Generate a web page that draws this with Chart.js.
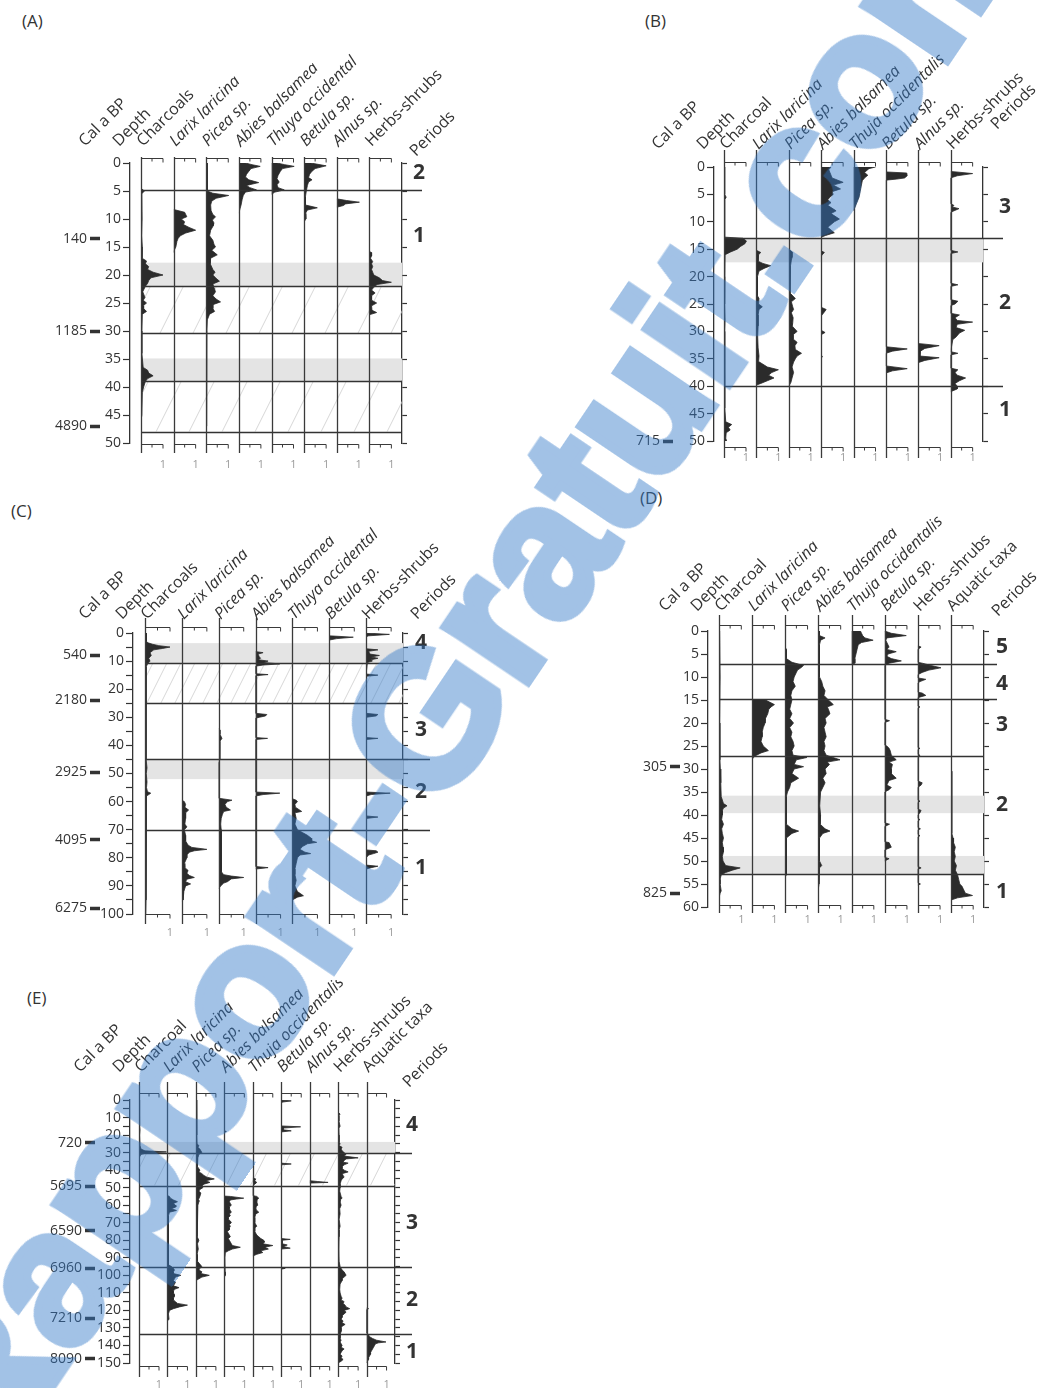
<!DOCTYPE html>
<html>
<head>
<meta charset="utf-8">
<script src="https://cdn.jsdelivr.net/npm/chart.js@4.4.1/dist/chart.umd.min.js"></script>
<style>
  body { margin: 0; background: #fff; }
  #page { position: relative; width: 1048px; height: 1388px; overflow: hidden; font-family: "Open Sans", sans-serif; color: #333; }
  #page canvas { position: absolute; }
  .tag { position: absolute; font-size: 17px; line-height: 20px; }
  #wm { position: absolute; left: 460px; top: 665px; transform: translate(-50%, -50%) rotate(-56deg);
        font: bold 190px "Liberation Sans", Arial, sans-serif; line-height: 1; white-space: nowrap;
        color: rgb(50, 120, 200); -webkit-text-stroke: 8px rgb(50, 120, 200); opacity: 0.45; pointer-events: none; }
</style>
</head>
<body>
<div id="page">
  <div class="tag" style="left:22px;top:11px">(A)</div>
  <div class="tag" style="left:645px;top:11px">(B)</div>
  <div class="tag" style="left:11px;top:501px">(C)</div>
  <div class="tag" style="left:640px;top:488px">(D)</div>
  <div class="tag" style="left:27px;top:988px">(E)</div>
  <canvas id="panelA" width="470" height="480" style="left:0;top:0"></canvas>
  <canvas id="panelB" width="428" height="480" style="left:620px;top:0"></canvas>
  <canvas id="panelC" width="480" height="450" style="left:0;top:490px"></canvas>
  <canvas id="panelD" width="418" height="450" style="left:630px;top:480px"></canvas>
  <canvas id="panelE" width="470" height="408" style="left:0;top:980px"></canvas>
  <div id="wm">Rapport-Gratuit.com</div>
</div>
<script>
Chart.defaults.font.family = '"Open Sans", sans-serif';
Chart.defaults.color = '#333';

// profiles are [depth, value] pairs, value 1 = the "1" tick of each column

// ---------- (A) ----------
const taxaA = ['Charcoals', 'Larix laricina', 'Picea sp.', 'Abies balsamea', 'Thuya occidental', 'Betula sp.', 'Alnus sp.', 'Herbs-shrubs'];
const charcoalsA = [[4.5,0],[5,.15],[5.5,.04],[10,.05],[13,.03],[15,.06],[17,.05],[17.5,.25],[18,.2],[18.5,.35],[19,.3],[19.5,.55],[20,1],[20.5,.45],[21,.35],[21.5,.3],[22,.2],[23,.08],[24,.18],[24.5,.1],[25,.25],[25.5,.1],[26,.12],[26.5,.25],[27,.06],[30,.04],[34,.04],[36.5,.1],[37,.3],[37.5,.35],[38,.55],[38.5,.3],[39,.2],[40,.12],[41,.06],[45,.04],[46,0]];
const larixA = [[8.3,0],[8.8,.5],[9.2,.55],[9.6,.6],[10,.35],[10.5,.5],[11,.45],[11.5,.7],[12,1],[12.5,.55],[13,.3],[13.5,.2],[14,.15],[15,.1],[15.5,.04],[16,0]];
const piceaA = [[0,.04],[5,.05],[5.4,.3],[5.8,1.02],[6.3,.45],[6.8,.25],[7.5,.2],[8.5,.22],[9.2,.3],[9.6,.42],[10.2,.28],[10.7,.35],[11.2,.32],[12,.2],[13,.15],[13.8,.3],[14.5,.35],[15,.42],[15.6,.25],[16.4,.5],[17,.2],[18,.18],[19,.3],[19.5,.4],[20,.3],[20.6,.45],[21.1,.6],[21.6,.3],[22.2,.35],[23,.42],[23.7,.3],[24.3,.45],[24.8,.65],[25.3,.3],[26,.3],[26.5,.38],[27,.15],[28,.05],[30,.03],[46,.03],[47,0]];
const abiesA = [[0,.3],[0.3,.6],[0.6,.97],[1,.55],[1.5,.45],[2,.35],[2.5,.3],[3,.45],[3.5,.9],[4,.35],[4.4,.5],[4.8,.8],[5.2,.3],[5.8,.2],[6.5,.15],[7.5,.1],[8.2,.05],[9,0]];
const thuyaA = [[0,.25],[0.3,.6],[0.6,1.03],[1,.5],[1.5,.4],[2.2,.3],[2.8,.25],[3.4,.35],[3.9,.25],[4.4,.3],[4.8,.58],[5.2,.15],[5.6,0]];
const betulaA = [[0,.3],[0.5,1],[1,.5],[1.5,.35],[2,.25],[2.6,.2],[3,.36],[3.4,.2],[4,.15],[5,.1],[6,.06],[7.5,.06],[8,.6],[8.4,.15],[9,.06],[10,.08],[10.5,0]];
const alnusA = [[6.4,0],[6.7,.45],[7,1.03],[7.3,.4],[7.6,.3],[7.9,0]];
const herbsA = [[15.8,0],[16,.1],[16.6,.1],[17,.05],[17.6,.15],[18,.1],[18.5,.15],[19,.1],[19.5,.15],[20,.2],[20.5,.45],[21,.6],[21.3,1],[21.7,.35],[22.2,.2],[22.7,.1],[23.2,.26],[23.7,.1],[24.5,.1],[25,.33],[25.5,.1],[26.3,.12],[26.7,.33],[27.1,0]];
const calDepthA = [13.5, 30, 47];
const calAgeA = ['140', '1185', '4890'];
const periodNameA = ['2', '1'];
const periodDepthA = [1.8, 13];
const periodLineA = [4.9];
const zoneLineA = [22, 30.4, 38.9, 48];
const greyA = [[17.8, 22], [34.9, 38.9]];
const hatchA = [[22, 30.4], [38.9, 48]];

// ---------- (B) ----------
const taxaB = ['Charcoal', 'Larix laricina', 'Picea sp.', 'Abies balsamea', 'Thuja occidentalis', 'Betula sp.', 'Alnus sp.', 'Herbs-shrubs'];
const charcoalB = [[0,.03],[5,.03],[5.5,.1],[6,.03],[12.8,.03],[13,.85],[13.5,1.02],[14,.95],[14.5,.75],[15,.6],[15.5,.3],[16,.05],[20,.04],[25,.03],[28,.05],[30,.03],[40,.03],[44,.04],[46.5,.08],[47,.35],[47.5,.2],[48,.28],[48.5,.1],[49.5,.08],[50,.12]];
const larixB = [[15.2,0],[15.6,.2],[16,.1],[17.2,.08],[17.6,.3],[18,.65],[18.5,.35],[19,.12],[20,.05],[23.5,.05],[24,.12],[25,.1],[25.5,.27],[26,.12],[27,.08],[29,.08],[31,.06],[33,.08],[34.5,.12],[35.5,.1],[36,.3],[36.5,.5],[37,1],[37.5,.7],[38,.55],[38.5,.8],[39,.5],[39.5,.2],[39.8,0]];
const piceaB = [[15,0],[15.5,.15],[16.5,.15],[17,.12],[18,.08],[20,.06],[23,.06],[24,.3],[24.6,.12],[25.5,.18],[26,.22],[26.6,.12],[27.5,.2],[28.5,.18],[29,.15],[30,.38],[30.6,.2],[31.4,.2],[32,.38],[32.6,.28],[33.3,.3],[34,.58],[34.5,.38],[35,.3],[35.6,.22],[36.5,.15],[37.5,.22],[38.5,.15],[39.3,.1],[40,0]];
const abiesB = [[0,.45],[0.5,.35],[1,.4],[1.5,.45],[2,.5],[2.8,1],[3.3,.55],[4,.88],[4.5,.5],[5,.55],[5.5,.4],[6,.3],[6.5,.45],[7,.3],[8,.68],[8.5,.45],[9.5,.83],[10,.6],[10.5,.45],[11,.3],[12,.6],[12.5,.2],[12.8,0],[15.3,0],[15.6,.15],[16,.05],[16.3,0],[25.6,0],[26,.23],[26.6,.12],[27.2,0],[29.8,0],[30.2,.18],[30.6,0],[34.3,0],[34.6,.06],[34.9,0]];
const thujaB = [[0,1],[0.3,.7],[1,.5],[1.5,.65],[2,.5],[2.5,.4],[3.5,.35],[4.5,.3],[5.5,.25],[6.5,.15],[7.5,.05],[8,0]];
const betulaB = [[0.9,0],[1.1,.95],[1.6,.97],[2,.85],[2.2,.5],[2.4,0],[32.8,0],[33.2,.97],[33.6,.3],[34,0],[36.3,0],[36.8,.97],[37.2,.3],[37.6,0]];
const alnusB = [[32.2,0],[32.6,.95],[33.1,.3],[33.6,.1],[34.5,.08],[34.8,.95],[35.3,.3],[35.7,0]];
const herbsB = [[0.8,0],[1.2,1],[1.6,.3],[2,0],[6.7,0],[7,.15],[7.3,.08],[7.6,.38],[8,.15],[8.3,0],[15.2,0],[15.5,.33],[15.8,0],[21.2,0],[21.5,.33],[21.8,0],[24.2,0],[24.5,.33],[25,.2],[25.3,0],[26.7,0],[27,.4],[27.5,.2],[28,.3],[28.3,1],[28.7,.3],[29.3,.25],[29.8,.64],[30.3,.4],[31,.25],[31.5,.1],[33.7,0],[34,.33],[34.3,0],[36.7,0],[37,.33],[37.5,.2],[38,.3],[38.5,.68],[39,.4],[39.5,.2],[40,.3],[40.5,.3],[41,0]];
const calDepthB = [50];
const calAgeB = ['715'];
const periodNameB = ['3', '2', '1'];
const periodDepthB = [7.3, 24.8, 44.3];
const periodLineB = [13, 40];
const zoneLineB = [];
const greyB = [[13, 17.4]];
const hatchB = [];

// ---------- (C) ----------
const taxaC = ['Charcoals', 'Larix laricina', 'Picea sp.', 'Abies balsamea', 'Thuya occidental', 'Betula sp.', 'Herbs-shrubs'];
const charcoalsC = [[0,.05],[3,.06],[3.5,.12],[4,.3],[4.5,.55],[5,1],[5.5,.7],[6,.35],[7,.2],[8,.25],[9,.15],[10,.2],[11,.1],[12,.05],[20,.04],[30,.04],[40,.04],[45,.06],[48,.08],[50,.05],[53,.08],[55,.06],[56.5,.1],[57,.23],[57.5,.15],[58,.06],[65,.04],[75,.04],[85,.05],[95,.04],[100,.03]];
const larixC = [[59.5,0],[60,.1],[61,.15],[62,.12],[63,.27],[64,.15],[66,.15],[68,.12],[69,.2],[70,.1],[72,.15],[74,.15],[75.5,.25],[76.3,.4],[77,1],[77.5,.5],[78,.3],[79,.2],[80,.2],[82,.1],[83.5,.12],[84.5,.25],[85.5,.2],[86.3,.3],[87,.5],[87.6,.2],[88.5,.15],[89.3,.35],[90,.15],[92,.08],[95,.05],[95.5,0]];
const piceaC = [[34,0],[34.5,.05],[36,.05],[37.5,.13],[38.5,.05],[42,.05],[45,.04],[46,0],[58.8,0],[59.5,.53],[60,.35],[61,.25],[62,.3],[63,.47],[63.5,.2],[64.5,.15],[66,.1],[68,.08],[70,.1],[72,.12],[75,.1],[78,.12],[82,.1],[85,.1],[86,.2],[86.5,.5],[87,1],[87.5,.5],[88.5,.35],[89,.2],[90,.08],[91,0]];
const abiesC = [[6.6,0],[7,.3],[7.5,.1],[8.5,.15],[9,.2],[9.5,.1],[10,.5],[10.5,.3],[11,.97],[11.4,.3],[11.8,0],[14.5,0],[14.8,.5],[15.2,0],[28.6,0],[29,.45],[29.5,.4],[30,.15],[30.3,0],[37.2,0],[37.5,.48],[37.9,0],[56.6,0],[57,.97],[57.5,.3],[58,0],[83.1,0],[83.5,.5],[84,0]];
const thuyaC = [[59,0],[59.5,.15],[60,.2],[61,.1],[62,.12],[63.5,.37],[64,.1],[66,.15],[68,.1],[70,.2],[71,.4],[72,.6],[73,.75],[74,.77],[74.5,.97],[75,.6],[76,.4],[77,.3],[78,.5],[78.5,.73],[79,.3],[80,.2],[82,.15],[84,.1],[86,.1],[88,.15],[90,.1],[92,.2],[93.5,.44],[94,.2],[95,0]];
const betulaC = [[1,0],[1.5,.96],[2,.3],[2.5,0]];
const herbsC = [[0,0],[0.5,.93],[1,.1],[1.3,0],[5.6,0],[6,.47],[6.5,.1],[7.5,.15],[8,.53],[8.5,.2],[9,.47],[9.5,.2],[10,.25],[10.5,.05],[14.6,0],[15,.47],[15.4,0],[28.6,0],[29,.47],[29.5,.4],[30,0],[37.2,0],[37.5,.47],[37.9,0],[56.6,0],[57,.96],[57.5,.2],[58,0],[65.1,0],[65.5,.47],[66,0],[77.2,0],[77.5,.4],[78,.47],[78.5,.3],[79,.1],[80,0],[82.6,0],[83,.47],[83.5,.2],[84,0]];
const calDepthC = [8, 24, 49.5, 73.6, 98];
const calAgeC = ['540', '2180', '2925', '4095', '6275'];
const periodNameC = ['4', '3', '2', '1'];
const periodDepthC = [3.6, 34.5, 56.6, 83.6];
const periodLineC = [45, 70];
const zoneLineC = [10.7, 25];
const greyC = [[3.6, 10.7], [45, 52]];
const hatchC = [[10.7, 25]];

// ---------- (D) ----------
const taxaD = ['Charcoal', 'Larix laricina', 'Picea sp.', 'Abies balsamea', 'Thuja occidentalis', 'Betula sp.', 'Herbs-shrubs', 'Aquatic taxa'];
const charcoalD = [[0,.03],[10,.05],[20,.03],[28,.04],[30,.06],[33,.08],[36,.1],[37.5,.2],[38,.36],[38.5,.2],[39,.15],[40,.15],[41,.12],[42,.2],[43,.12],[44,.15],[45,.2],[46,.15],[47,.18],[48,.2],[49,.15],[50,.18],[51,.3],[51.5,.95],[52,.6],[52.5,.3],[53,.1],[54,.05],[55,.05],[56.5,.1],[57,.05],[58,0]];
const larixD = [[14.9,0],[15,.6],[15.5,.8],[16,1],[16.5,.85],[17,.75],[18,.7],[19,.6],[20,.58],[21,.5],[22,.45],[23,.45],[24,.4],[25,.5],[26,.73],[26.5,.4],[27,.2],[27.5,.05],[28,0]];
const piceaD = [[3.5,0],[4,.05],[6,.05],[6.8,.3],[7.5,.82],[8,.7],[8.5,.55],[9,.5],[10,.4],[11,.35],[12,.45],[13,.3],[14,.25],[15,.3],[16,.25],[17,.2],[18,.3],[19,.2],[20,.37],[21,.2],[22,.3],[23,.25],[24,.35],[25,.4],[26,.3],[27,.35],[27.5,.97],[28,.5],[29,.4],[29.5,.82],[30,.4],[31,.3],[32,.6],[33,.25],[34,.2],[35,.1],[36,.05],[42,.05],[43,.3],[43.5,.6],[44,.3],[45,.05],[50,.05],[53,.05],[53.5,0]];
const abiesD = [[0,.05],[1,.05],[1.5,.3],[2,.1],[3,.05],[10,.05],[11,.15],[12,.2],[13,.3],[14,.25],[15,.45],[16,.67],[16.5,.4],[17,.45],[18,.52],[19,.3],[20,.35],[21,.25],[22,.3],[23,.35],[24,.25],[25,.3],[26,.25],[27,.35],[28,.97],[28.5,.4],[29,.5],[30,.3],[31,.35],[32,.2],[33,.3],[34,.2],[35,.1],[38,.06],[40,.1],[42,.08],[43,.3],[43.5,.52],[44,.2],[45,.05],[50,.05],[51,.15],[51.5,.05],[55,.03],[56,0]];
const thujaD = [[0,.4],[0.5,.45],[1,.5],[1.5,.6],[2,.97],[2.5,.45],[3,.3],[4,.25],[5,.2],[6,.15],[7,.15],[7.3,0]];
const betulaD = [[0,0],[0.5,.3],[1,.97],[1.5,.1],[2,.05],[3,.15],[3.5,.2],[4,.1],[4.5,.52],[5,.15],[5.5,.1],[6,.3],[6.5,.75],[7,.2],[7.5,0],[19.2,0],[19.5,.22],[19.9,0],[24.8,0],[25,.1],[25.5,.2],[26,.25],[27,.3],[28,.52],[28.5,.2],[29,.35],[30,.3],[31,.3],[32,.52],[32.5,.2],[33.5,.1],[34,.3],[34.5,.2],[35,0],[41.7,0],[42,.22],[42.5,0],[45.8,0],[46,.2],[47,.3],[47.6,0],[49.2,0],[49.5,.2],[50,0]];
const herbsD = [[3.2,0],[3.5,.15],[4,0],[6.8,0],[7,.2],[7.5,.6],[8,1.04],[8.5,.5],[9,.2],[9.5,0],[10.2,0],[10.5,.36],[11,.1],[11.3,0],[13.3,0],[13.5,.2],[14,.36],[14.5,0],[16.3,0],[16.5,.1],[16.8,0],[25.3,0],[25.5,.1],[25.8,0],[26.8,0],[27,.1],[27.5,0],[32.6,0],[33,.2],[33.5,.15],[34,0],[36.7,0],[37,.1],[37.3,0],[38.7,0],[39,.15],[39.5,.1],[40,0],[40.7,0],[41,.1],[41.3,0],[42.7,0],[43,.12],[43.3,0],[44.2,0],[44.5,.1],[44.8,0],[51.2,0],[51.5,.15],[51.8,0],[54.7,0],[55,.12],[55.3,0]];
const aquaticD = [[30,0],[30.5,.04],[44,.04],[45,.1],[46,.12],[47,.2],[48,.15],[49,.2],[50,.15],[51,.25],[52,.2],[53,.3],[54,.35],[55,.4],[55.5,.5],[56,.55],[56.5,.6],[57,.65],[57.5,.97],[58,.3],[58.5,0]];
const calDepthD = [29.5, 57];
const calAgeD = ['305', '825'];
const periodNameD = ['5', '4', '3', '2', '1'];
const periodDepthD = [3.5, 11.5, 20.4, 37.8, 56.7];
const periodLineD = [7.2, 14.8];
const zoneLineD = [27.2, 52.8];
const greyD = [[35.8, 39.6], [48.9, 52.8]];
const hatchD = [];

// ---------- (E) ----------
const taxaE = ['Charcoal', 'Larix laricina', 'Picea sp.', 'Abies balsamea', 'Thuja occidentalis', 'Betula sp.', 'Alnus sp.', 'Herbs-shrubs', 'Aquatic taxa'];
const charcoalE = [[0,.02],[15,.03],[17,.05],[20,.03],[26,.05],[28,.1],[29,.3],[29.6,1.37],[30.2,.4],[31,.1],[32,.05],[33,0]];
const larixE = [[54.5,0],[55,.1],[56,.15],[57,.3],[58,.5],[59,.3],[60,.4],[61,.42],[62,.2],[63,.45],[64,.1],[66,.05],[70,.05],[80,.05],[90,.05],[94,.05],[95,.2],[96,.3],[97,.35],[98,.3],[99,.3],[100,.67],[101,.4],[102,.35],[103,.3],[104,.4],[105,.35],[106,.3],[107,.58],[108,.35],[109,.3],[110,.3],[111,.35],[112,.35],[113,.3],[114,.3],[115,.4],[116,.5],[117,1],[118,.6],[119,.3],[120,.1],[122,.05],[125,.08],[126,0]];
const piceaE = [[0,.03],[10,.04],[20,.05],[25,.06],[26,.15],[27,.1],[28,.2],[29,.25],[30,.3],[31,.15],[33,.1],[36,.06],[38,.1],[40,.2],[41,.15],[42,.3],[43,.4],[44,.55],[45,.92],[46,.5],[47,.7],[48,.4],[49,.3],[50,.35],[51,.2],[52,.15],[53,.25],[55,.2],[57,.12],[58,.15],[60,.1],[62,.06],[70,.06],[75,.08],[78,.06],[80,.15],[82,.08],[85,.12],[88,.06],[92,.08],[95,.3],[96,.2],[97,.15],[98,.3],[99,.25],[100,.67],[101,.3],[102,.15],[103,0]];
const abiesE = [[17.5,0],[18,.1],[18.5,0],[54.8,0],[55,.3],[56,.97],[56.5,.6],[57,.3],[58,.25],[59,.3],[60,.35],[61,.25],[62,.25],[63,.3],[64,.35],[65,.25],[66,.3],[67,.2],[68,.2],[69,.3],[70,.35],[71,.25],[72,.3],[73,.25],[74,.25],[75,.15],[76,.2],[77,.25],[78,.3],[79,.2],[80,.25],[81,.3],[82,.35],[83,.4],[84,.8],[85,.4],[86,.2],[87,.05],[90,.03],[98,.04],[100,.05],[101,0]];
const thujaE = [[44.5,0],[45,.15],[46,.1],[47,.2],[48,.1],[49,0],[54.5,0],[55,.2],[56,.3],[57,.2],[58,.2],[60,.25],[61,.15],[62,.15],[63,.2],[64,.3],[65,.15],[67,.1],[70,.1],[72,.2],[73,.1],[75,.1],[77,.2],[78,.3],[79,.4],[80,.55],[81,.6],[82,.5],[83,1],[84,.6],[85,.78],[86,.4],[87,.5],[88,.2],[89,0]];
const betulaE = [[0,0],[0.5,.5],[1.2,.05],[2,0],[14.8,0],[15.3,.97],[16,.1],[17,.1],[17.6,.5],[18.2,0],[36,0],[36.5,.5],[37,0],[79,0],[79.5,.45],[80,.05],[82,.05],[82.7,.3],[83.5,.1],[84.5,.45],[85,0],[95.5,0],[96,.2],[96.5,0]];
const alnusE = [[46,0],[46.5,.4],[47,.92],[47.4,0]];
const herbsE = [[7,0],[8,.1],[9,.04],[12,.04],[15,.1],[16,.04],[20,.05],[24,.05],[25,.1],[26,.05],[27,.2],[28,.15],[29,.2],[30,.3],[31,.4],[32,.3],[33,1],[33.6,.4],[34.5,.3],[35.5,.25],[36,.5],[37,.3],[38,.2],[39,.2],[40,.3],[41,.5],[42,.2],[43,.25],[44,.3],[45,.2],[46,.15],[48,.1],[50,.1],[52,.08],[55,.15],[56,.2],[57,.1],[58,.1],[60,.15],[62,.08],[65,.1],[68,.05],[72,.1],[74,.05],[78,.05],[85,.04],[92,.05],[95,.1],[96,.15],[97,.2],[98,.3],[99,.35],[100,.4],[101,.3],[102,.2],[103,.2],[105,.1],[108,.08],[110,.1],[112,.15],[113,.2],[114,.15],[115,.3],[116,.25],[117,.35],[118,.4],[119,.58],[120,.3],[121,.4],[122,.3],[123,.2],[124,.2],[125,.15],[126,.25],[127,.2],[128,.35],[129,.2],[130,.15],[132,.15],[134,.1],[136,.1],[137,.15],[138,.1],[140,.2],[141,.15],[142,.3],[143,.2],[144,.15],[145,.1],[146,.2],[147,.15],[148,.25],[149,.15],[150,0]];
const aquaticE = [[118.5,0],[119,.1],[119.5,0],[133,0],[134,.1],[135,.15],[136,.3],[137,.5],[138,.97],[138.5,.6],[139,.45],[140,.4],[141,.35],[142,.3],[143,.25],[144,.2],[145,.2],[146,.15],[147,.1],[148,.1],[149,.05],[150,0]];
const calDepthE = [24.5, 49.3, 74.5, 96, 124.5, 147.5];
const calAgeE = ['720', '5695', '6590', '6960', '7210', '8090'];
const periodNameE = ['4', '3', '2', '1'];
const periodDepthE = [14, 70, 114, 144];
const periodLineE = [30.2, 95.3, 133.7];
const zoneLineE = [48.8];
const greyE = [[23.9, 30.2]];
const hatchE = [[30.2, 48.8]];

const ink = '#2b2b2b';
const upright = ['Charcoal', 'Charcoals', 'Herbs-shrubs', 'Aquatic taxa'];

// bands, hatching, column axes, zone lines and rotated headers
function makeDecor(lay, p, cols) {
  return {
    id: 'decor',
    beforeDatasetsDraw(chart) {
      const {ctx, chartArea: a, scales} = chart;
      const y = scales.y;
      const x0 = scales[cols[0]].getPixelForValue(0);
      ctx.save();
      ctx.fillStyle = '#e4e4e4';
      p.grey.forEach(([d0, d1]) => {
        const t = y.getPixelForValue(d0), b = y.getPixelForValue(d1);
        ctx.fillRect(x0, t, a.right - x0, b - t);
      });
      ctx.strokeStyle = '#cdcdcd';
      ctx.lineWidth = 0.8;
      p.hatch.forEach(([d0, d1]) => {
        const t = y.getPixelForValue(d0), b = y.getPixelForValue(d1), h = b - t;
        ctx.save();
        ctx.beginPath();
        ctx.rect(x0, t, a.right - x0, h);
        ctx.clip();
        ctx.beginPath();
        for (let x = x0 - h; x < a.right; x += lay.hatch) {
          ctx.moveTo(x, b);
          ctx.lineTo(x + h * 0.5, t);
        }
        ctx.stroke();
        ctx.restore();
      });
      ctx.restore();
    },
    afterDatasetsDraw(chart) {
      const {ctx, chartArea: a, scales} = chart;
      const y = scales.y;
      const x0 = scales[cols[0]].getPixelForValue(0);
      ctx.save();
      // zone and period boundaries
      ctx.strokeStyle = '#333';
      ctx.lineWidth = 1.4;
      ctx.beginPath();
      p.zones.forEach(d => {
        const py = Math.round(y.getPixelForValue(d)) + 0.5;
        ctx.moveTo(x0, py); ctx.lineTo(a.right, py);
      });
      p.periodLines.forEach(d => {
        const py = Math.round(y.getPixelForValue(d)) + 0.5;
        ctx.moveTo(x0, py); ctx.lineTo(a.right + lay.ext, py);
      });
      ctx.stroke();

      // one small axis pair per column
      cols.forEach(id => {
        const s = scales[id];
        const x = Math.round(s.getPixelForValue(0)) + 0.5;
        const xh = s.getPixelForValue(0.5), x1 = s.getPixelForValue(1);
        const ty = Math.round(a.top - lay.axTop) + 0.5, by = Math.round(a.bottom + lay.axBot) + 0.5;
        ctx.strokeStyle = '#3a3a3a';
        ctx.lineWidth = 1.3;
        ctx.beginPath();
        ctx.moveTo(x, a.top - lay.colTop); ctx.lineTo(x, a.bottom + lay.colBot);
        ctx.stroke();
        ctx.lineWidth = 1;
        ctx.beginPath();
        [ty, by].forEach(v => {
          ctx.moveTo(x, v); ctx.lineTo(x1, v);
          ctx.moveTo(xh, v); ctx.lineTo(xh, v + 3);
          ctx.moveTo(x1, v); ctx.lineTo(x1, v + 4);
        });
        ctx.stroke();
        ctx.fillStyle = '#9a9a9a';
        ctx.font = '11px "Open Sans"';
        ctx.textAlign = 'center';
        ctx.textBaseline = 'middle';
        ctx.fillText('1', x1, a.bottom + lay.oneOff);
      });

      // period numbers
      ctx.fillStyle = '#333';
      ctx.font = 'bold 21px "Open Sans"';
      ctx.textAlign = 'center';
      ctx.textBaseline = 'middle';
      p.periodNames.forEach((nm, i) => ctx.fillText(nm, a.right + lay.numX, y.getPixelForValue(p.periodDepths[i])));

      // rotated headers
      const head = (txt, x, yy, italic) => {
        ctx.save();
        ctx.translate(x, yy);
        ctx.rotate(-45 * Math.PI / 180);
        ctx.font = (italic ? 'italic ' : '') + '16px "Open Sans"';
        ctx.textAlign = 'left';
        ctx.textBaseline = 'alphabetic';
        ctx.fillText(txt, 0, 0);
        ctx.restore();
      };
      const hy = a.top - lay.headGap;
      head('Cal a BP', scales.cal.right - 15, hy, false);
      head('Depth', a.left - 11, hy, false);
      cols.forEach((id, i) => head(p.taxa[i], scales[id].getPixelForValue(0) + 2, hy, !upright.includes(p.taxa[i])));
      head('Periods', a.right + 14, a.top - lay.perGap, false);
      ctx.restore();
    }
  };
}

function drawPanel(canvasId, lay, p) {
  const n = p.taxa.length;
  const colW = (lay.R - lay.L - lay.gap) / n;
  const scales = {
    gap: {axis: 'x', type: 'linear', position: 'bottom', stack: 'cols', stackWeight: lay.gap / colW, display: false, min: 0, max: 1}
  };
  const cols = p.taxa.map((t, i) => 'c' + i);
  cols.forEach(id => {
    scales[id] = {axis: 'x', type: 'linear', position: 'bottom', stack: 'cols', stackWeight: 1, display: false, min: 0, max: colW / lay.unit};
  });
  scales.y = {
    type: 'linear', position: 'left', reverse: true, min: 0, max: lay.depth, weight: 0,
    afterFit: s => { s.width = lay.L - lay.padL - lay.calW; },
    border: {color: '#333', width: 1.3},
    grid: {drawOnChartArea: false, tickLength: 7, color: '#333', tickWidth: 1.2},
    ticks: {stepSize: 5, autoSkip: false, padding: 2, color: '#333', font: {size: 14},
            callback: v => (v % lay.labelStep === 0 ? v : '')}
  };
  scales.cal = {
    type: 'linear', position: 'left', reverse: true, min: 0, max: lay.depth, weight: 1,
    afterBuildTicks: s => { s.ticks = p.calDepths.map(v => ({value: v})); },
    afterFit: s => { s.width = lay.calW; },
    border: {display: false},
    grid: {drawOnChartArea: false, tickLength: 10, tickWidth: 3.5, tickColor: '#333'},
    ticks: {autoSkip: false, padding: 3, color: '#333', font: {size: 14}, callback: (v, i) => p.calAges[i]}
  };
  scales.per = {
    type: 'linear', position: 'right', reverse: true, min: 0, max: lay.depth,
    afterFit: s => { s.width = 6; },
    border: {color: '#333', width: 1.3},
    grid: {drawOnChartArea: false, tickLength: 5, color: '#333', tickWidth: 1.2},
    ticks: {stepSize: 5, autoSkip: false, display: false}
  };
  const datasets = p.series.map((s, i) => ({
    data: s.map(([dep, v]) => ({x: v, y: dep})),
    xAxisID: cols[i], yAxisID: 'y',
    fill: 'origin', backgroundColor: ink, borderColor: ink, borderWidth: 0.8,
    pointRadius: 0, tension: 0
  }));
  new Chart(document.getElementById(canvasId), {
    type: 'line',
    data: {datasets},
    options: {
      indexAxis: 'y', responsive: false, animation: false,
      layout: {padding: {left: lay.padL, right: lay.W - lay.R - 6, top: lay.T, bottom: lay.H - lay.B}},
      plugins: {legend: {display: false}, tooltip: {enabled: false}},
      scales
    },
    plugins: [makeDecor(lay, p, cols)]
  });
}

drawPanel('panelA',
  {W: 470, H: 480, L: 130, R: 402, T: 163, B: 443, padL: 30, calW: 70, gap: 11, unit: 22, depth: 50, labelStep: 5,
   headGap: 16, perGap: 6, colTop: 6, axTop: 5, axBot: 1, colBot: 10, oneOff: 22, ext: 20, hatch: 33, numX: 17},
  {taxa: taxaA, series: [charcoalsA, larixA, piceaA, abiesA, thuyaA, betulaA, alnusA, herbsA],
   calDepths: calDepthA, calAges: calAgeA, periodNames: periodNameA, periodDepths: periodDepthA,
   periodLines: periodLineA, zones: zoneLineA, grey: greyA, hatch: hatchA});

drawPanel('panelB',
  {W: 428, H: 480, L: 94, R: 363, T: 167, B: 441, padL: 13, calW: 40, gap: 10, unit: 22, depth: 50, labelStep: 5,
   headGap: 17, perGap: 37, colTop: 17, axTop: 5, axBot: 6, colBot: 17, oneOff: 17, ext: 20, hatch: 30, numX: 22},
  {taxa: taxaB, series: [charcoalB, larixB, piceaB, abiesB, thujaB, betulaB, alnusB, herbsB],
   calDepths: calDepthB, calAges: calAgeB, periodNames: periodNameB, periodDepths: periodDepthB,
   periodLines: periodLineB, zones: zoneLineB, grey: greyB, hatch: hatchB});

drawPanel('panelC',
  {W: 480, H: 450, L: 133, R: 403, T: 143, B: 424, padL: 30, calW: 70, gap: 12, unit: 25, depth: 100, labelStep: 10,
   headGap: 13, perGap: 13, colTop: 15, axTop: 6, axBot: 0, colBot: 10, oneOff: 19, ext: 27, hatch: 14, numX: 18},
  {taxa: taxaC, series: [charcoalsC, larixC, piceaC, abiesC, thuyaC, betulaC, herbsC],
   calDepths: calDepthC, calAges: calAgeC, periodNames: periodNameC, periodDepths: periodDepthC,
   periodLines: periodLineC, zones: zoneLineC, grey: greyC, hatch: hatchC});

drawPanel('panelD',
  {W: 418, H: 450, L: 78, R: 354, T: 151, B: 427, padL: 5, calW: 45, gap: 11, unit: 22.3, depth: 60, labelStep: 5,
   headGap: 19, perGap: 14, colTop: 16, axTop: 6, axBot: -2, colBot: 6, oneOff: 13, ext: 13, hatch: 30, numX: 18},
  {taxa: taxaD, series: [charcoalD, larixD, piceaD, abiesD, thujaD, betulaD, herbsD, aquaticD],
   calDepths: calDepthD, calAges: calAgeD, periodNames: periodNameD, periodDepths: periodDepthD,
   periodLines: periodLineD, zones: zoneLineD, grey: greyD, hatch: hatchD});

drawPanel('panelE',
  {W: 470, H: 408, L: 130, R: 395, T: 120, B: 383, padL: 25, calW: 70, gap: 9, unit: 20, depth: 150, labelStep: 10,
   headGap: 27, perGap: 12, colTop: 18, axTop: 7, axBot: 3, colBot: 14, oneOff: 22, ext: 17, hatch: 24, numX: 17},
  {taxa: taxaE, series: [charcoalE, larixE, piceaE, abiesE, thujaE, betulaE, alnusE, herbsE, aquaticE],
   calDepths: calDepthE, calAges: calAgeE, periodNames: periodNameE, periodDepths: periodDepthE,
   periodLines: periodLineE, zones: zoneLineE, grey: greyE, hatch: hatchE});
</script>
</body>
</html>
